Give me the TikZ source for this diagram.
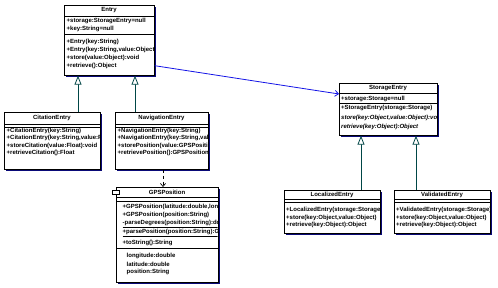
\documentclass[tikz,border=0pt]{standalone}
\usepackage{fontspec}
\setmainfont{Liberation Sans}
\usepackage{xcolor}
\usetikzlibrary{arrows.meta,positioning,shadows}
\definecolor{teal1}{RGB}{0,70,70}
\definecolor{blue1}{RGB}{20,20,230}
\definecolor{navy1}{RGB}{10,10,120}
\newcommand{\umlfont}{\fontsize{6}{7}\selectfont\bfseries}

\begin{document}
\begin{tikzpicture}[x=1pt,y=-1pt,
    classbox/.style={draw, fill=white, line width=0.7pt, anchor=north west, inner sep=0pt,
      drop shadow={shadow xshift=1.2pt, shadow yshift=-1.2pt, fill=navy1, opacity=1}},
    clsname/.style={font=\umlfont, inner sep=0pt},
    row/.style={font=\umlfont, anchor=west, inner sep=0pt},
    sep/.style={line width=0.6pt},
    inherit/.style={teal1, line width=0.8pt, -{Triangle[open,fill=white,length=9pt,width=7pt]}},
    depend/.style={black, line width=0.7pt, dashed, -{Straight Barb[length=3pt,width=5pt]}},
    assoc/.style={blue1, line width=0.8pt, -{Straight Barb[length=3.5pt,width=6pt]}}]
    \useasboundingbox (0,0) rectangle (498,288);

    % Class boxes
    \node[classbox, minimum width=90pt, minimum height=70pt] (entry) at (64,5) {};
    \node[classbox, minimum width=96pt, minimum height=57pt] (cite) at (4,112) {};
    \node[classbox, minimum width=93pt, minimum height=57pt] (nav) at (115,112) {};
    \node[classbox, minimum width=102pt, minimum height=95pt] (gps) at (116,187) {};
    \node[classbox, minimum width=98pt, minimum height=52pt] (storage) at (339,83) {};
    \node[classbox, minimum width=96pt, minimum height=43pt] (local) at (284,190) {};
    \node[classbox, minimum width=96pt, minimum height=43pt] (valid) at (394,190) {};
    % small icon on gps box
    \draw[fill=white, line width=0.6pt] (112,190) rectangle (119,194.5);

    % Compartment lines
    \draw[sep] (64,16) -- (154,16);  \draw[sep] (64,34) -- (154,34);
    \draw[sep] (4,124) -- (100,124);  \draw[sep] (4,127) -- (100,127);
    \draw[sep] (115,124) -- (208,124);  \draw[sep] (115,127) -- (208,127);
    \draw[sep] (116,197) -- (218,197);  \draw[sep] (116,201) -- (218,201);
    \draw[sep] (116,248) -- (218,248);
    \draw[sep] (339,93.5) -- (437,93.5);  \draw[sep] (339,103) -- (437,103);
    \draw[sep] (284,199) -- (380,199);  \draw[sep] (284,202) -- (380,202);
    \draw[sep] (394,199) -- (490,199);  \draw[sep] (394,202) -- (490,202);

    % Entry
    \node[clsname] (entry-t) at (109,10.5) {Entry};
    \begin{scope}
        \clip (64,5) rectangle (153.5,75);
        \foreach \t [count=\i] in {{+storage:StorageEntry=null},{+key:String=null}}
            \node[row] (entry-a\i) at (66.5,13+8*\i) {\t};
        \foreach \t [count=\i] in {{+Entry(key:String)},{+Entry(key:String,value:Object)},
            {+store(value:Object):void},{+retrieve():Object}}
            \node[row] (entry-m\i) at (66.5,34+8*\i) {\t};
    \end{scope}

    % CitationEntry
    \node[clsname] (cite-t) at (52,118) {CitationEntry};
    \begin{scope}
        \clip (4,112) rectangle (99.5,169);
        \foreach \t [count=\i] in {{+CitationEntry(key:String)},{+CitationEntry(key:String,value:Float)},
            {+storeCitation(value:Float):void},{+retrieveCitation():Float}}
            \node[row] (cite-m\i) at (6.5,124+7.2*\i) {\t};
    \end{scope}

    % NavigationEntry
    \node[clsname] (nav-t) at (161.5,118) {NavigationEntry};
    \begin{scope}
        \clip (115,112) rectangle (207.5,169);
        \foreach \t [count=\i] in {{+NavigationEntry(key:String)},{+NavigationEntry(key:String,value:GPSPosition)},
            {+storePosition(value:GPSPosition):void},{+retrievePosition():GPSPosition}}
            \node[row] (nav-m\i) at (117.5,124+7.2*\i) {\t};
    \end{scope}

    % GPSPosition
    \node[clsname] (gps-t) at (167,192.5) {GPSPosition};
    \begin{scope}
        \clip (116,187) rectangle (217.5,282);
        \node[row] (gps-m1) at (122.5,207) {+GPSPosition(latitude:double,longitude:double)};
        \node[row] (gps-m2) at (122.5,215) {+GPSPosition(position:String)};
        \node[row] (gps-m3) at (122.5,223.5) {\underline{-parseDegrees(position:String):double}};
        \node[row] (gps-m4) at (122.5,233) {\underline{+parsePosition(position:String):GPSPosition}};
        \node[row] (gps-m5) at (122.5,243) {+toString():String};
        \foreach \t [count=\i] in {{longitude:double},{latitude:double},{position:String}}
            \node[row] (gps-a\i) at (126.5,248+8*\i) {\t};
    \end{scope}

    % StorageEntry
    \node[clsname] (storage-t) at (388,88.5) {StorageEntry};
    \begin{scope}
        \clip (339,83) rectangle (436.5,135);
        \node[row] (storage-a1) at (341,98.5) {+storage:Storage=null};
        \foreach \t [count=\i] in {{+StorageEntry(storage:Storage)},{\itshape store(key:Object,value:Object):void},
            {\itshape retrieve(key:Object):Object}}
            \node[row] (storage-m\i) at (341,98.5+9.5*\i) {\t};
    \end{scope}

    % LocalizedEntry
    \node[clsname] (local-t) at (332,195) {LocalizedEntry};
    \begin{scope}
        \clip (284,190) rectangle (379.5,233);
        \foreach \t [count=\i] in {{+LocalizedEntry(storage:Storage)},{+store(key:Object,value:Object)},
            {+retrieve(key:Object):Object}}
            \node[row] (local-m\i) at (286,202.5+7.5*\i) {\t};
    \end{scope}

    % ValidatedEntry
    \node[clsname] (valid-t) at (442,195) {ValidatedEntry};
    \begin{scope}
        \clip (394,190) rectangle (489.5,233);
        \foreach \t [count=\i] in {{+ValidatedEntry(storage:Storage)},{+store(key:Object,value:Object)},
            {+retrieve(key:Object):Object}}
            \node[row] (valid-m\i) at (396,202.5+7.5*\i) {\t};
    \end{scope}

    % Connectors
    \coordinate (inhA) at (78,0);
    \coordinate (inhB) at (135,0);
    \coordinate (inhC) at (361,0);
    \coordinate (inhD) at (416,0);
    \coordinate (dep) at (163,0);
    \draw[inherit] (cite.north -| inhA) -- (entry.south -| inhA);
    \draw[inherit] (nav.north -| inhB) -- (entry.south -| inhB);
    \draw[inherit] (local.north -| inhC) -- (storage.south -| inhC);
    \draw[inherit] (valid.north -| inhD) -- (storage.south -| inhD);
    \draw[depend] (nav.south -| dep) -- (gps.north -| dep);
    \draw[assoc] ([yshift=10pt]entry.south east) -- ([yshift=-11pt]storage.north west);
\end{tikzpicture}
\end{document}
